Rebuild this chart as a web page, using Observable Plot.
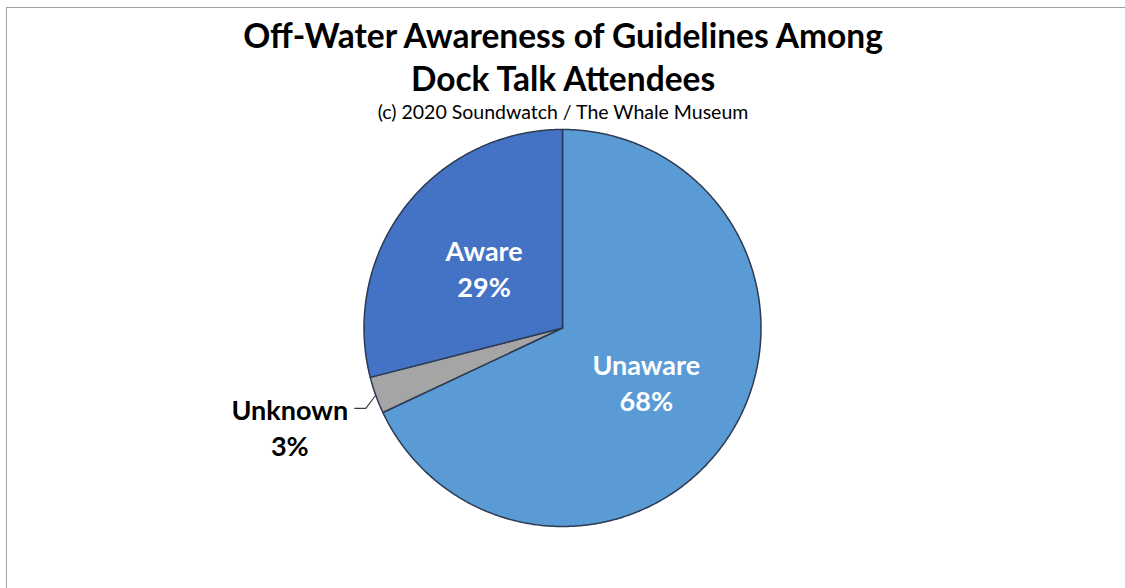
<!DOCTYPE html>
<html>
<head>
<meta charset="utf-8">
<script src="https://cdn.jsdelivr.net/npm/d3@7"></script>
<script src="https://cdn.jsdelivr.net/npm/@observablehq/plot@0.6"></script>
<style>
  html, body { margin: 0; padding: 0; background: #fff; }
  #wrap { position: relative; width: 1125px; height: 588px; overflow: hidden; }
  #border { position: absolute; left: 6px; top: 7px; width: 1200px; height: 700px;
            border-left: 1.5px solid #a0a0a0; border-top: 1.5px solid #a0a0a0; pointer-events: none; }
  svg { display: block; }
</style>
</head>
<body>
<div id="wrap"><div id="chart"></div><div id="border"></div></div>
<script>
// ---- data ----
const categories = ["Unaware", "Unknown", "Aware"];
const percents = [68, 3, 29];
const titleLines = ["Off-Water Awareness of Guidelines Among", "Dock Talk Attendees"];
const subtitle = "(c) 2020 Soundwatch / The Whale Museum";

// ---- build ----
const rows = categories.map((name, i) => ({name, value: percents[i]}));
const arcs = d3.pie().sort(null).value(d => d.value)(rows);

const W = 1125, H = 588;
const cx = 562, cy = 327.5, R = 198.5; // layout: pie centre and radius in pixels
const xDomain = [-cx / R, (W - cx) / R];
const yDomain = [-(H - cy) / R, cy / R];

const poly = [];
for (const a of arcs) {
  const n = Math.max(2, Math.ceil((a.endAngle - a.startAngle) / (2 * Math.PI) * 720));
  poly.push({name: a.data.name, x: 0, y: 0});
  for (let i = 0; i <= n; i++) {
    const t = a.startAngle + (a.endAngle - a.startAngle) * i / n;
    poly.push({name: a.data.name, x: Math.sin(t), y: Math.cos(t)});
  }
  poly.push({name: a.data.name, x: 0, y: 0});
}

const labels = arcs.map(a => {
  const m = (a.startAngle + a.endAngle) / 2;
  const inside = a.data.value > 5;
  const r = inside ? 0.5 : 1.46;
  return {name: a.data.name, text: `${a.data.name}\n${a.data.value}%`, inside,
          x: Math.sin(m) * r, y: Math.cos(m) * r, m};
});

const leaders = [];
for (const l of labels.filter(d => !d.inside)) {
  const p0 = {x: Math.sin(l.m), y: Math.cos(l.m)};
  const p1 = {x: p0.x - 0.05, y: p0.y - 0.066};
  const p2 = {x: p1.x - 0.056, y: p1.y};
  leaders.push({name: l.name, ...p0}, {name: l.name, ...p1}, {name: l.name, ...p2});
}

const font = "Lato, 'Open Sans', sans-serif";

const chart = Plot.plot({
  width: W, height: H,
  margin: 0,
  x: {domain: xDomain, axis: null},
  y: {domain: yDomain, axis: null},
  color: {domain: categories, range: ["#5b9bd5", "#a5a5a5", "#4472c4"]},
  marks: [
    Plot.line(poly, {x: "x", y: "y", z: "name", fill: "name", stroke: "#2c3a52",
                     strokeWidth: 1.5, strokeLinejoin: "round", curve: "linear"}),
    Plot.line(leaders, {x: "x", y: "y", z: "name", stroke: "#404040", strokeWidth: 1.2}),
    Plot.text(labels.filter(d => d.inside), {x: "x", y: "y", text: "text", fill: "white",
      fontFamily: font, fontWeight: "bold", fontSize: 27, lineHeight: 1.36, lineAnchor: "middle"}),
    Plot.text(labels.filter(d => !d.inside), {x: "x", y: "y", text: "text", fill: "black",
      fontFamily: font, fontWeight: "bold", fontSize: 27, lineHeight: 1.36, lineAnchor: "middle"}),
    Plot.text([titleLines[0]], {frameAnchor: "top", dy: 47, lineAnchor: "bottom", text: d => d,
      fontFamily: font, fontWeight: "bold", fontSize: 33.5, fill: "black"}),
    Plot.text([titleLines[1]], {frameAnchor: "top", dy: 90, lineAnchor: "bottom", text: d => d,
      fontFamily: font, fontWeight: "bold", fontSize: 33.5, fill: "black"}),
    Plot.text([subtitle], {frameAnchor: "top", dy: 118, lineAnchor: "bottom", text: d => d,
      fontFamily: font, fontSize: 19.5, fill: "black"})
  ]
});
document.getElementById("chart").appendChild(chart);
</script>
</body>
</html>
